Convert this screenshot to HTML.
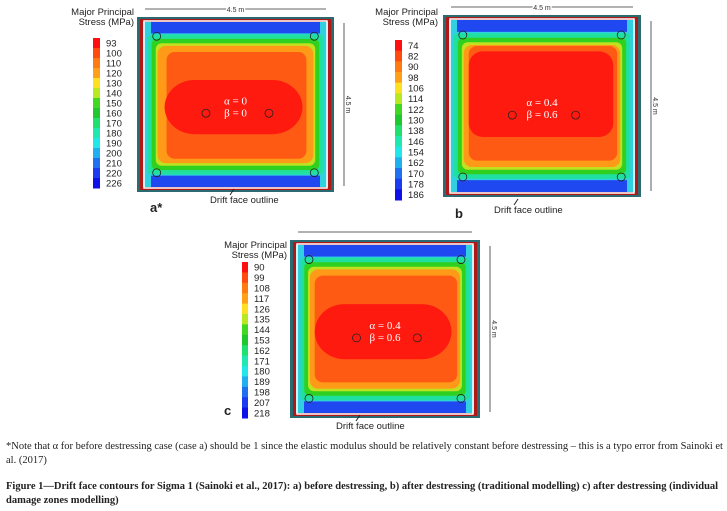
<!DOCTYPE html>
<html><head><meta charset="utf-8"><style>
html,body{margin:0;padding:0;background:#fff;width:727px;height:511px;overflow:hidden}
svg{position:absolute;left:0;top:0}
.note{position:absolute;left:6px;top:440px;width:720px;font:10.5px "Liberation Serif",serif;line-height:14px;color:#222}
.cap{position:absolute;left:6px;top:480px;width:720px;font:bold 10.5px "Liberation Serif",serif;line-height:14px;color:#222}
</style></head><body>
<svg id="fig" width="727" height="511"></svg>
<div class="note">*Note that α for before destressing case (case a) should be 1 since the elastic modulus should be relatively constant before destressing – this is a typo error from Sainoki et al. (2017)</div>
<div class="cap">Figure 1—Drift face contours for Sigma 1 (Sainoki et al., 2017): a) before destressing, b) after destressing (traditional modelling) c) after destressing (individual damage zones modelling)</div>
<script>
const labelsA=[93,100,110,120,130,140,150,160,170,180,190,200,210,220,226];
const labelsB=[74,82,90,98,106,114,122,130,138,146,154,162,170,178,186];
const labelsC=[90,99,108,117,126,135,144,153,162,171,180,189,198,207,218];
const colors=["#ff1010","#ff4a10","#ff7a10","#ffa018","#ffe020","#b8e820","#40d820","#20c830","#20e070","#20e8b0","#20e8e8","#20b0f0","#2070f0","#1c3cf0","#1010e8"];
const NS="http://www.w3.org/2000/svg";
const svg=document.getElementById('fig');
function mk(t,a,p){const e=document.createElementNS(NS,t);for(const k in a)e.setAttribute(k,a[k]);(p||svg).appendChild(e);return e;}
const panels=[
 {id:'a',box:[137,17,197,175],bar:[93,38,7,150],title:[134,15],labels:labelsA,letter:'a*',lx:150,ly:212,dfx:210,dfy:203,ab:['α = 0','β = 0'],
  red:[0.14,0.36,0.16,0.33],dark:[0.15,0.2,0.14,0.19]},
 {id:'b',box:[443,15,198,182],bar:[395,40,7,160],title:[438,15],labels:labelsB,letter:'b',lx:455,ly:218,dfx:494,dfy:213,ab:['α = 0.4','β = 0.6'],
  red:[0.13,0.2,0.14,0.33],dark:[0.13,0.17,0.12,0.2]},
 {id:'c',box:[290,240,190,178],bar:[242,262,6,156],title:[287,248],labels:labelsC,letter:'c',lx:224,ly:415,dfx:336,dfy:429,ab:['α = 0.4','β = 0.6'],
  red:[0.13,0.36,0.15,0.33],dark:[0.13,0.2,0.12,0.2]}
];
panels.forEach(p=>{
 const g=mk('g',{});
 
 
 const [x,y,w,h]=p.box;
 const t=mk('text',{x:p.title[0],y:p.title[1],'text-anchor':'end','font-family':'Liberation Sans, sans-serif','font-size':'9.5',fill:'#222'},g);
 t.textContent='Major Principal';
 
 
 const t2=mk('text',{x:p.title[0],y:p.title[1]+10,'text-anchor':'end','font-family':'Liberation Sans, sans-serif','font-size':'9.5',fill:'#222'},g);
 t2.textContent='Stress (MPa)';
 
 
 const n=p.labels.length,[bx,by,bw,bh]=p.bar,sh=bh/n;
 p.labels.forEach((v,i)=>{
  const r=mk('rect',{x:bx,y:by+i*sh,width:bw,height:sh+0.5,fill:colors[i]},g);
  
  
  const l=mk('text',{x:bx+bw+6,y:by+i*sh+sh/2+3.5,'font-family':'Liberation Sans, sans-serif','font-size':'9.5',fill:'#222'},g);
  l.textContent=v;
  
  
 });
 mk('rect',{x:x,y:y,width:w,height:h,fill:'#2a6a70'},g);
 mk('rect',{x:x+3,y:y+2,width:w-6,height:h-4,fill:'#b01818'},g);
 mk('rect',{x:x+6,y:y+5,width:w-12,height:h-10,fill:'#30d0e0'},g);
 mk('rect',{x:x+14,y:y+5,width:w-28,height:h*0.065,fill:'#2048f0'},g);
 mk('rect',{x:x+14,y:y+h-5-h*0.065,width:w-28,height:h*0.065,fill:'#2048f0'},g);
 const L=(fx,fy,c,rx)=>mk('rect',{x:x+w*fx,y:y+h*fy,width:w*(1-2*fx),height:h*(1-2*fy),fill:c,rx:rx},g);
 L(0.055,0.1,'#20e0a0',4);L(0.075,0.125,'#30d020',5);L(0.095,0.15,'#c0e020',6);L(0.105,0.165,'#ff9a18',8);
 const d=p.dark;
 mk('rect',{x:x+w*d[0],y:y+h*d[1],width:w*(1-d[0]-d[2]),height:h*(1-d[1]-d[3]),fill:'#ff5a14',rx:8},g);
 const r=p.red;
 mk('rect',{x:x+w*r[0],y:y+h*r[1],width:w*(1-r[0]-r[2]),height:h*(1-r[1]-r[3]),fill:'#ff1a10',rx:p.id=='b'?14:30},g);
 mk('rect',{x:x+7,y:y+4,width:w-14,height:h-8,fill:'none',stroke:'#fff','stroke-width':1.5},g);
 [[0.1,0.11],[0.9,0.11],[0.1,0.89],[0.9,0.89],[0.35,0.55],[0.67,0.55]].forEach(c=>{
  const ci=mk('circle',{cx:x+w*c[0],cy:y+h*c[1],r:4,fill:'none',stroke:'#222','stroke-width':0.8},g);
  
  
 });
 p.ab.forEach((s,i)=>{
  const tx=mk('text',{x:x+w*0.5,y:y+h*0.5+i*12,'text-anchor':'middle','font-family':'Liberation Serif, serif','font-size':'11',fill:'#fff'},g);
  tx.textContent=s;
  
  
 });
 mk('line',{x1:x+8,y1:y-8,x2:x+w-8,y2:y-8,stroke:'#333','stroke-width':0.8},g);
 mk('line',{x1:x+w+10,y1:y+6,x2:x+w+10,y2:y+h-6,stroke:'#333','stroke-width':0.8},g);
 if(p.id!='c'){const dt=mk('text',{x:x+w/2,y:y-5,'text-anchor':'middle','font-family':'Liberation Sans, sans-serif','font-size':'7',fill:'#333',stroke:'#fff','stroke-width':3,'paint-order':'stroke'},g);dt.textContent='4.5 m';}
 const dv=mk('text',{x:0,y:0,'text-anchor':'middle','font-family':'Liberation Sans, sans-serif','font-size':'7',fill:'#333',stroke:'#fff','stroke-width':3,'paint-order':'stroke',transform:`translate(${x+w+12},${y+h/2}) rotate(90)`},g);
 dv.textContent='4.5 m';
 
 
 const df=mk('text',{x:p.dfx,y:p.dfy,'font-family':'Liberation Sans, sans-serif','font-size':'9.5',fill:'#222'},g);
 df.textContent='Drift face outline';
 
 
 mk('line',{x1:p.dfx+20,y1:p.dfy-8,x2:p.dfx+24,y2:p.dfy-14,stroke:'#222','stroke-width':1},g);
 const lt=mk('text',{x:p.lx,y:p.ly,'font-family':'Liberation Sans, sans-serif','font-size':'13','font-weight':'bold',fill:'#222'},g);
 lt.textContent=p.letter;
 
 
});
</script>
</body></html>
